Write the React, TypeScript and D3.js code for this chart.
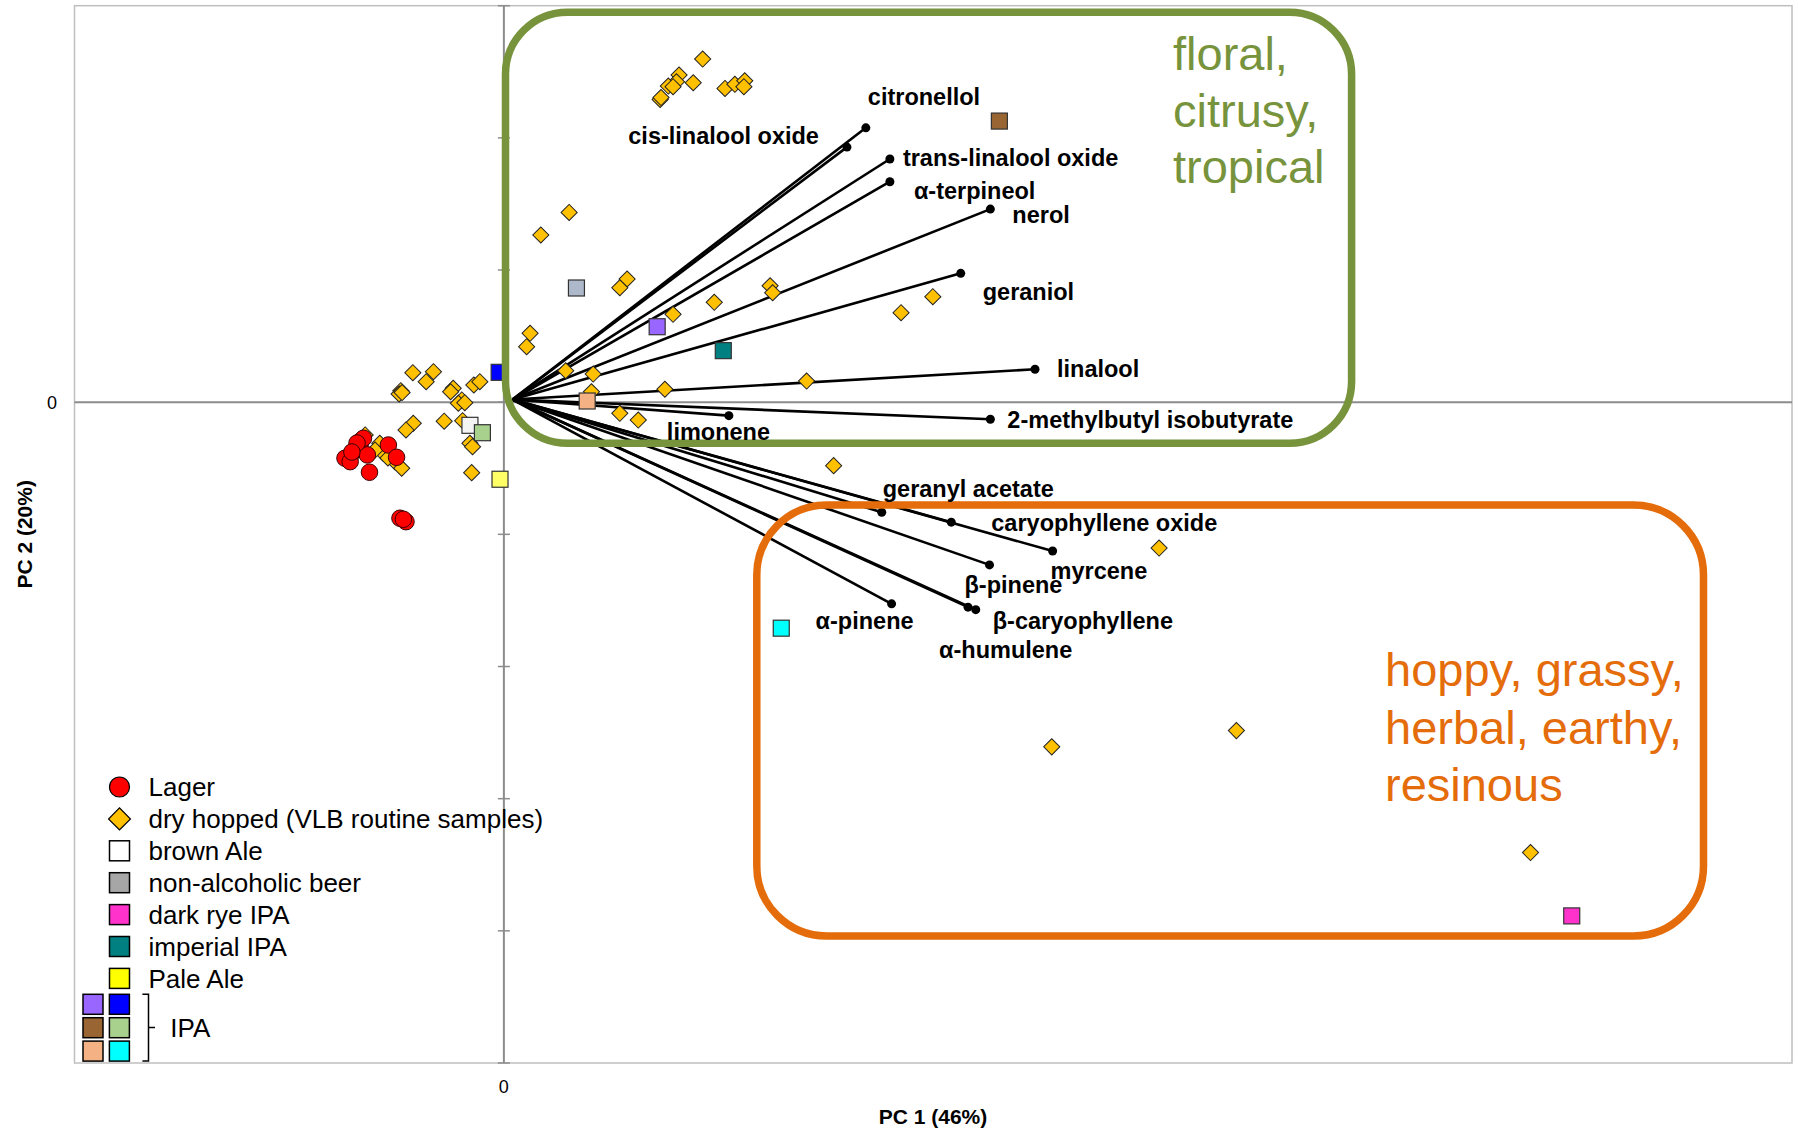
import React from 'react';
import * as d3 from 'd3';

// PCA scores (PC1, PC2)
const lagerX = [-0.331, -0.335, -0.347, -0.358, -0.370, -0.358, -0.318, -0.269, -0.250, -0.313, -0.242, -0.228, -0.234, -0.327, -0.342, -0.354];
const lagerY = [-0.286, -0.337, -0.362, -0.412, -0.424, -0.450, -0.399, -0.324, -0.417, -0.530, -0.878, -0.904, -0.886, -0.273, -0.309, -0.377];

const dryHoppedX = [
  -0.212, -0.164, -0.181, -0.240, -0.244, -0.237, -0.118, -0.124, -0.070, -0.056,
  -0.098, -0.106, -0.091, -0.211, -0.228, -0.139, -0.096, -0.079, -0.073, -0.075,
  -0.289, -0.281, -0.254, -0.238, -0.323, -0.270, -0.300,
  0.463, 0.408, 0.402, 0.383, 0.441, 0.364, 0.366, 0.515, 0.538, 0.561, 0.559, 0.394,
  0.152, 0.086, 0.287, 0.270, 0.061, 0.053, 0.394, 0.490, 0.620, 0.626,
  0.144, 0.208, 0.204, 0.375, 0.705, 0.270, 0.313, 0.999, 0.925, 0.768,
  1.526, 1.276, 1.706, 2.391,
];
const dryHoppedY = [
  0.223, 0.231, 0.155, 0.087, 0.062, 0.073, 0.105, 0.079, 0.130, 0.155,
  0.017, -0.008, -0.004, -0.160, -0.210, -0.144, -0.140, -0.311, -0.337, -0.533,
  -0.311, -0.387, -0.450, -0.500, -0.248, -0.422, -0.362,
  2.596, 2.475, 2.424, 2.392, 2.417, 2.291, 2.305, 2.374, 2.405, 2.432, 2.387, 2.387,
  1.436, 1.265, 0.932, 0.866, 0.521, 0.420, 0.665, 0.756, 0.881, 0.828,
  0.238, 0.213, 0.079, 0.098, 0.160, -0.084, -0.135, 0.798, 0.677, -0.480,
  -1.104, -2.608, -2.485, -3.408,
];

const beerNames = ['brown Ale', 'non-alcoholic beer', 'dark rye IPA', 'imperial IPA', 'Pale Ale', 'IPA 1', 'IPA 2', 'IPA 3', 'IPA 4', 'IPA 5', 'IPA 6'];
const beerX = [-0.079, 0.169, 2.487, 0.511, -0.009, 0.357, -0.011, 1.154, -0.050, 0.194, 0.646];
const beerY = [-0.175, 0.864, -3.887, 0.390, -0.583, 0.571, 0.226, 2.127, -0.231, 0.009, -1.710];

// loadings (scaled into score space)
const loadingNames = [
  'citronellol', 'cis-linalool oxide', 'trans-linalool oxide', 'α-terpineol', 'nerol', 'geraniol',
  'linalool', '2-methylbutyl isobutyrate', 'limonene', 'geranyl acetate', 'caryophyllene oxide',
  'myrcene', 'β-pinene', 'α-pinene', 'α-humulene', 'β-caryophyllene',
];
const loadingX = [0.843, 0.799, 0.899, 0.899, 1.133, 1.064, 1.237, 1.133, 0.524, 0.880, 1.042, 1.278, 1.131, 0.903, 1.081, 1.099];
const loadingY = [2.076, 1.930, 1.840, 1.668, 1.461, 0.975, 0.249, -0.129, -0.102, -0.833, -0.908, -1.126, -1.231, -1.526, -1.551, -1.570];

const yTicks = [-5, -4, -3, -2, -1, 0, 1, 2, 3];

const legendLabels = ['brown Ale', 'non-alcoholic beer', 'dark rye IPA', 'imperial IPA', 'Pale Ale'];
const ipaLegend = [['IPA 1', 'IPA 2'], ['IPA 3', 'IPA 4'], ['IPA 5', 'IPA 6']];

const floralText = ['floral,', 'citrusy,', 'tropical'];
const hoppyText = ['hoppy, grassy,', 'herbal, earthy,', 'resinous'];

// styling
const plotFill: Record<string, string> = {
  'brown Ale': '#F4F4F4', 'non-alcoholic beer': '#ADB9CA', 'dark rye IPA': '#FF33CC',
  'imperial IPA': '#008080', 'Pale Ale': '#FFFF66', 'IPA 1': '#9966FF', 'IPA 2': '#0000FF',
  'IPA 3': '#996633', 'IPA 4': '#A9D18E', 'IPA 5': '#F4B183', 'IPA 6': '#00FFFF',
};
const legendFill: Record<string, string> = {
  ...plotFill, 'brown Ale': '#FFFFFF', 'non-alcoholic beer': '#A6A6A6', 'Pale Ale': '#FFFF00',
};

// label offsets from the arrow tip, in px: [dx, dy(center), anchor]
const labelPlace: Record<string, [number, number, string]> = {
  'citronellol': [2, -31, 'start'],
  'cis-linalool oxide': [-28, -11, 'end'],
  'trans-linalool oxide': [13, -1, 'start'],
  'α-terpineol': [24, 9, 'start'],
  'nerol': [22, 6, 'start'],
  'geraniol': [22, 18, 'start'],
  'linalool': [22, -1, 'start'],
  '2-methylbutyl isobutyrate': [17, 1, 'start'],
  'limonene': [-62, 16, 'start'],
  'geranyl acetate': [1, -24, 'start'],
  'caryophyllene oxide': [40, 1, 'start'],
  'myrcene': [-2, 20, 'start'],
  'β-pinene': [-25, 20, 'start'],
  'α-pinene': [-76, 17, 'start'],
  'α-humulene': [-29, 43, 'start'],
  'β-caryophyllene': [17, 11, 'start'],
};

const FONT = '"Liberation Sans", Arial, Helvetica, sans-serif';
const GREEN = '#77933C';
const ORANGE = '#E46C0A';

export default function App() {
  const width = 1798;
  const height = 1131;
  const left = 74.5, right = 1792, top = 5.7, bottom = 1063;

  const x = d3.scaleLinear().domain([-1, 3]).range([left, right]);
  const y = d3.scaleLinear().domain([-5, 3]).range([bottom, top]);

  const diamond = d3.symbol(d3.symbolSquare, 130)();
  const diamondBig = d3.symbol(d3.symbolSquare, 240)();
  const circle = d3.symbol(d3.symbolCircle, 215)();
  const circleBig = d3.symbol(d3.symbolCircle, 314)();

  const origin = [0.02, 0.02];
  const line = d3.line();

  const rowY = (i: number) => 787 + i * 31.9;

  return (
    <svg width={width} height={height} style={{ position: 'absolute', left: 0, top: 0, background: '#fff' }} fontFamily={FONT}>
      {/* frame */}
      <rect x={left} y={top} width={right - left} height={bottom - top} fill="none" stroke="#BFBFBF" strokeWidth={1.5} />
      {/* zero axes */}
      <line x1={left} x2={right} y1={y(0)} y2={y(0)} stroke="#8C8C8C" strokeWidth={2} />
      <line x1={x(0)} x2={x(0)} y1={top} y2={bottom} stroke="#8C8C8C" strokeWidth={2} />
      {yTicks.map(t => (
        <line key={t} x1={x(0) - 6} x2={x(0) + 6} y1={y(t)} y2={y(t)} stroke="#8C8C8C" strokeWidth={1.5} />
      ))}
      <text x={57} y={y(0) + 6.5} textAnchor="end" fontSize={18}>0</text>
      <text x={x(0)} y={1093} textAnchor="middle" fontSize={18}>0</text>

      <text x={933} y={1124} textAnchor="middle" fontSize={21} fontWeight="bold">PC 1 (46%)</text>
      <text transform={`translate(32,${(top + bottom) / 2}) rotate(-90)`} textAnchor="middle" fontSize={21} fontWeight="bold">PC 2 (20%)</text>

      {/* loadings */}
      {loadingNames.map((n, i) => (
        <g key={n}>
          <path d={line([[x(origin[0]), y(origin[1])], [x(loadingX[i]), y(loadingY[i])]]) as string} stroke="#000" strokeWidth={2.6} fill="none" />
          <circle cx={x(loadingX[i])} cy={y(loadingY[i])} r={4.5} fill="#000" />
        </g>
      ))}

      {/* scores */}
      {dryHoppedX.map((v, i) => (
        <path key={'d' + i} d={diamond as string} transform={`translate(${x(v)},${y(dryHoppedY[i])}) rotate(45)`} fill="#FFC000" stroke="#222" strokeWidth={1} />
      ))}
      {lagerX.map((v, i) => (
        <path key={'l' + i} d={circle as string} transform={`translate(${x(v)},${y(lagerY[i])})`} fill="#FF0000" stroke="#3a0000" strokeWidth={1} />
      ))}
      {beerNames.map((n, i) => (
        <rect key={n} x={x(beerX[i]) - 8} y={y(beerY[i]) - 8} width={16} height={16} fill={plotFill[n]} stroke="#333" strokeWidth={1.2} />
      ))}

      {/* aroma regions */}
      <rect x={505.5} y={12.3} width={1351.6 - 505.5} height={443.3 - 12.3} rx={62} ry={62} fill="none" stroke={GREEN} strokeWidth={7.5} />
      <rect x={756.8} y={505} width={1703.5 - 756.8} height={936 - 505} rx={70} ry={70} fill="none" stroke={ORANGE} strokeWidth={7.5} />
      {floralText.map((t, i) => (
        <text key={t} x={1173} y={70 + i * 56.5} fontSize={47} fill={GREEN}>{t}</text>
      ))}
      {hoppyText.map((t, i) => (
        <text key={t} x={1385} y={686 + i * 57.5} fontSize={47} fill={ORANGE}>{t}</text>
      ))}

      {/* loading labels */}
      {loadingNames.map((n, i) => {
        const [dx, dy, anchor] = labelPlace[n];
        return (
          <text key={n} x={x(loadingX[i]) + dx} y={y(loadingY[i]) + dy} dy="0.35em" textAnchor={anchor} fontSize={23.5} fontWeight="bold">{n}</text>
        );
      })}

      {/* legend */}
      <g fontSize={26}>
        <path d={circleBig as string} transform={`translate(119.5,${rowY(0)})`} fill="#FF0000" stroke="#000" strokeWidth={1.2} />
        <text x={148.5} y={rowY(0)} dy="0.35em">Lager</text>
        <path d={diamondBig as string} transform={`translate(119.5,${rowY(1)}) rotate(45)`} fill="#FFC000" stroke="#000" strokeWidth={1.2} />
        <text x={148.5} y={rowY(1)} dy="0.35em">dry hopped (VLB routine samples)</text>
        {legendLabels.map((n, i) => (
          <g key={n}>
            <rect x={109.5} y={rowY(i + 2) - 10} width={20} height={20} fill={legendFill[n]} stroke="#000" strokeWidth={1.5} />
            <text x={148.5} y={rowY(i + 2)} dy="0.35em">{n}</text>
          </g>
        ))}
        {ipaLegend.map((row, r) => row.map((n, c) => (
          <rect key={n} x={83 + c * 26.4} y={994.3 + r * 23.4} width={20} height={20} fill={legendFill[n]} stroke="#000" strokeWidth={1.5} />
        )))}
        <path d="M142.4,994.3 H148.5 V1061 H142.4 M148.5,1027.5 H155" fill="none" stroke="#000" strokeWidth={1.5} />
        <text x={170.3} y={1027.5} dy="0.35em">IPA</text>
      </g>
    </svg>
  );
}
